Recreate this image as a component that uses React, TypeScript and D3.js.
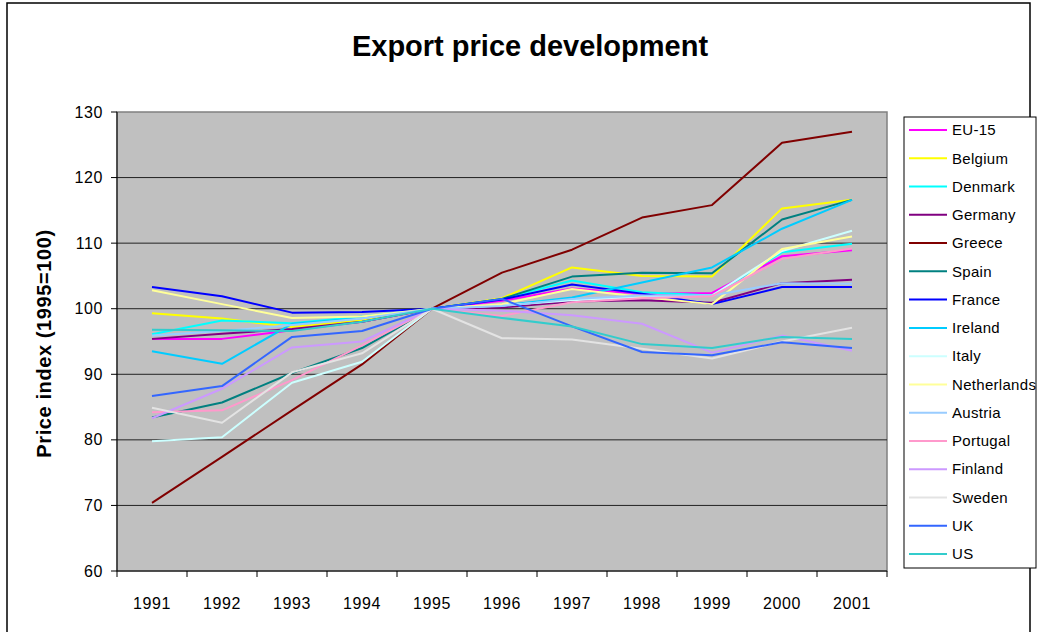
import React from "react";
import * as d3 from "d3";

const years = ["1991", "1992", "1993", "1994", "1995", "1996", "1997", "1998", "1999", "2000", "2001"];
const yTicks = [60, 70, 80, 90, 100, 110, 120, 130];

const countries = ["EU-15", "Belgium", "Denmark", "Germany", "Greece", "Spain", "France", "Ireland", "Italy", "Netherlands", "Austria", "Portugal", "Finland", "Sweden", "UK", "US"];
const colors = ["#FF00FF", "#FFFF00", "#00FFFF", "#800080", "#800000", "#008080", "#0000FF", "#00CCFF", "#CCFFFF", "#FFFF99", "#99CCFF", "#FF99CC", "#CC99FF", "#E3E3E3", "#3366FF", "#33CCCC"];

// price index per country, 1991..2001
const eu15 = [95.4, 95.4, 96.7, 98.0, 100, 101.2, 103.1, 102.3, 102.4, 108.0, 108.9];
const belgium = [99.3, 98.5, 97.2, 98.2, 100, 101.6, 106.3, 105.0, 104.9, 115.3, 116.6];
const denmark = [96.1, 98.2, 97.8, 98.8, 100, 101.5, 104.3, 102.5, 102.0, 108.6, 109.9];
const germany = [95.4, 96.2, 96.9, 98.0, 100, 100.2, 101.1, 101.3, 100.9, 103.9, 104.4];
const greece = [70.4, 77.4, 84.5, 91.5, 100, 105.5, 109.0, 113.9, 115.8, 125.3, 127.0];
const spain = [83.4, 85.7, 90.2, 94.0, 100, 101.5, 104.9, 105.5, 105.4, 113.6, 116.6];
const france = [103.3, 101.9, 99.4, 99.5, 100, 101.4, 103.7, 102.3, 100.7, 103.3, 103.3];
const ireland = [93.5, 91.6, 97.7, 98.6, 100, 100.5, 101.7, 104.0, 106.3, 112.2, 116.6];
const italy = [79.8, 80.4, 88.7, 91.9, 100, 100.5, 101.3, 101.8, 102.0, 108.8, 111.9];
const netherlands = [102.8, 100.7, 98.6, 98.8, 100, 100.7, 103.0, 101.8, 100.7, 109.1, 111.0];
const austria = [95.9, 96.6, 97.5, 98.5, 100, 100.4, 101.5, 102.0, 102.0, 103.9, 103.8];
const portugal = [84.2, 84.5, 89.1, 94.4, 100, 98.9, 101.0, 101.6, 101.9, 107.6, 109.2];
const finland = [83.3, 87.8, 94.1, 95.0, 100, 99.7, 99.0, 97.7, 93.3, 95.9, 93.6];
const sweden = [84.9, 82.6, 90.3, 93.2, 100, 95.5, 95.3, 93.9, 92.4, 95.0, 97.1];
const uk = [86.7, 88.2, 95.7, 96.6, 100, 101.5, 97.3, 93.4, 92.9, 94.9, 94.0];
const us = [96.8, 96.7, 96.6, 98.0, 100, 98.6, 97.3, 94.6, 94.0, 95.7, 95.4];

const series = [eu15, belgium, denmark, germany, greece, spain, france, ireland, italy, netherlands, austria, portugal, finland, sweden, uk, us];

const W = 1038;
const H = 632;
const plot = { left: 117, right: 887, top: 112, bottom: 571 };
const font = "Arial, 'Liberation Sans', sans-serif";

export default function App() {
  const x = d3.scaleBand().domain(years).range([plot.left, plot.right]);
  const y = d3.scaleLinear().domain([60, 130]).range([plot.bottom, plot.top]);
  const line = d3
    .line<number>()
    .x((_, i) => (x(years[i]) as number) + x.bandwidth() / 2)
    .y((d) => y(d));

  const legendX = 904;
  const legendY = 117;
  const legendStep = 28.27;

  return (
    <svg width={W} height={H} style={{ position: "absolute", left: 0, top: 0, background: "#fff" }} fontFamily={font}>
      <rect x={7} y={3} width={1023} height={H} fill="#fff" stroke="#000" strokeWidth={1.5} />
      <text x={530} y={56} textAnchor="middle" fontSize={29} fontWeight="bold">
        Export price development
      </text>

      {/* plot area */}
      <rect x={plot.left} y={plot.top} width={plot.right - plot.left} height={plot.bottom - plot.top} fill="#C0C0C0" stroke="#808080" strokeWidth={1.5} />
      {yTicks.slice(1, -1).map((t) => (
        <line key={t} x1={plot.left} x2={plot.right} y1={y(t)} y2={y(t)} stroke="#222" strokeWidth={1} />
      ))}
      <line x1={plot.left} x2={plot.left} y1={plot.top} y2={plot.bottom} stroke="#000" strokeWidth={1} />
      <line x1={plot.left} x2={plot.right} y1={plot.bottom} y2={plot.bottom} stroke="#000" strokeWidth={1} />

      {/* y axis */}
      {yTicks.map((t) => (
        <g key={t}>
          <line x1={plot.left - 6} x2={plot.left} y1={y(t)} y2={y(t)} stroke="#000" />
          <text x={103} y={y(t)} dy="0.35em" textAnchor="end" fontSize={16} letterSpacing={0.6}>
            {t}
          </text>
        </g>
      ))}
      <text transform={`translate(51, ${(plot.top + plot.bottom) / 2 + 2}) rotate(-90)`} textAnchor="middle" fontSize={20} fontWeight="bold" letterSpacing={0.6}>
        Price index (1995=100)
      </text>

      {/* x axis */}
      {years.map((yr) => (
        <line key={"t" + yr} x1={x(yr)} x2={x(yr)} y1={plot.bottom} y2={plot.bottom + 6} stroke="#000" />
      ))}
      <line x1={plot.right} x2={plot.right} y1={plot.bottom} y2={plot.bottom + 6} stroke="#000" />
      {years.map((yr) => (
        <text key={yr} x={(x(yr) as number) + x.bandwidth() / 2} y={609} textAnchor="middle" fontSize={16} letterSpacing={0.6}>
          {yr}
        </text>
      ))}

      {/* lines */}
      {series.map((s, i) => (
        <path key={countries[i]} d={line(s) || ""} fill="none" stroke={colors[i]} strokeWidth={2} strokeLinejoin="round" />
      ))}

      {/* legend */}
      <rect x={legendX} y={legendY} width={132} height={451} fill="#fff" stroke="#000" strokeWidth={1} />
      {countries.map((c, i) => {
        const cy = legendY + 13 + i * legendStep;
        return (
          <g key={c}>
            <line x1={legendX + 5} x2={legendX + 43} y1={cy} y2={cy} stroke={colors[i]} strokeWidth={2} />
            <text x={legendX + 48} y={cy} dy="0.35em" fontSize={15} letterSpacing={0.3}>
              {c}
            </text>
          </g>
        );
      })}
    </svg>
  );
}
